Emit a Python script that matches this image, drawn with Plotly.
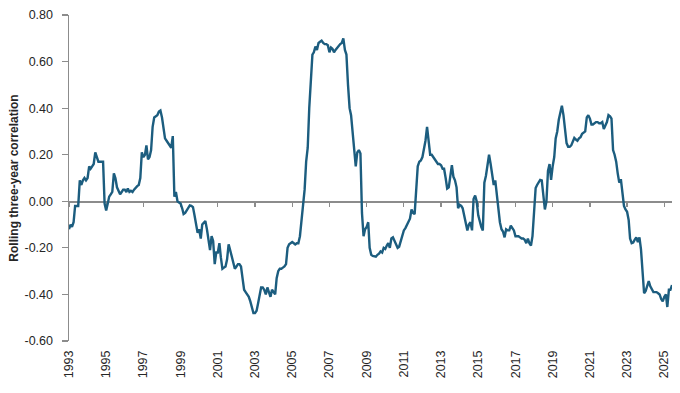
import pandas as pd
import plotly.graph_objects as go

# Monthly rolling three-year correlation, Jan 1993 - Jun 2025
v1993 = [-0.12, -0.10, -0.11, -0.09, -0.02, -0.02, -0.02, 0.09, 0.07, 0.09, 0.10, 0.09]
v1994 = [0.10, 0.15, 0.14, 0.15, 0.16, 0.21, 0.19, 0.17, 0.17, 0.17, 0.17, -0.01]
v1995 = [-0.04, -0.01, 0.02, 0.03, 0.04, 0.12, 0.10, 0.06, 0.04, 0.03, 0.04, 0.05]
v1996 = [0.05, 0.04, 0.055, 0.04, 0.045, 0.04, 0.05, 0.06, 0.065, 0.07, 0.10, 0.21]
v1997 = [0.19, 0.20, 0.24, 0.18, 0.19, 0.22, 0.32, 0.36, 0.365, 0.37, 0.385, 0.39]
v1998 = [0.36, 0.30, 0.27, 0.26, 0.25, 0.24, 0.23, 0.28, 0.02, 0.04, 0.00, -0.005]
v1999 = [-0.01, -0.03, -0.055, -0.05, -0.04, -0.025, -0.018, -0.02, -0.025, -0.06, -0.10, -0.135]
v2000 = [-0.12, -0.16, -0.10, -0.09, -0.085, -0.12, -0.16, -0.21, -0.15, -0.17, -0.27, -0.22]
v2001 = [-0.22, -0.18, -0.24, -0.29, -0.285, -0.28, -0.25, -0.185, -0.21, -0.24, -0.27, -0.29]
v2002 = [-0.28, -0.27, -0.27, -0.28, -0.33, -0.38, -0.39, -0.40, -0.41, -0.43, -0.46, -0.48]
v2003 = [-0.48, -0.47, -0.44, -0.40, -0.37, -0.37, -0.38, -0.40, -0.37, -0.39, -0.41, -0.38]
v2004 = [-0.39, -0.40, -0.33, -0.30, -0.29, -0.29, -0.285, -0.28, -0.27, -0.20, -0.185, -0.18]
v2005 = [-0.175, -0.18, -0.185, -0.18, -0.18, -0.15, -0.085, -0.04, 0.05, 0.17, 0.23, 0.40]
v2006 = [0.55, 0.63, 0.64, 0.665, 0.65, 0.68, 0.685, 0.69, 0.68, 0.675, 0.675, 0.67]
v2007 = [0.64, 0.66, 0.655, 0.64, 0.65, 0.66, 0.67, 0.675, 0.68, 0.70, 0.65, 0.63]
v2008 = [0.50, 0.40, 0.37, 0.30, 0.25, 0.15, 0.21, 0.22, 0.205, -0.05, -0.15, -0.12]
v2009 = [-0.11, -0.09, -0.20, -0.23, -0.235, -0.235, -0.238, -0.23, -0.225, -0.215, -0.22, -0.20]
v2010 = [-0.205, -0.19, -0.18, -0.20, -0.16, -0.155, -0.17, -0.19, -0.20, -0.195, -0.17, -0.14]
v2011 = [-0.125, -0.115, -0.10, -0.085, -0.075, -0.035, -0.05, -0.055, 0.05, 0.15, 0.17, 0.175]
v2012 = [0.19, 0.22, 0.26, 0.32, 0.27, 0.20, 0.20, 0.19, 0.18, 0.17, 0.16, 0.16]
v2013 = [0.155, 0.14, 0.14, 0.10, 0.055, 0.06, 0.12, 0.155, 0.105, 0.09, 0.06, -0.03]
v2014 = [-0.015, -0.02, -0.03, -0.06, -0.10, -0.125, -0.10, -0.09, -0.125, 0.01, 0.025, 0.0]
v2015 = [-0.06, -0.09, -0.11, -0.125, 0.08, 0.11, 0.15, 0.20, 0.16, 0.11, 0.07, 0.09]
v2016 = [0.02, -0.03, -0.09, -0.12, -0.13, -0.155, -0.12, -0.125, -0.125, -0.105, -0.115, -0.125]
v2017 = [-0.15, -0.15, -0.15, -0.155, -0.16, -0.16, -0.165, -0.18, -0.16, -0.18, -0.19, -0.15]
v2018 = [-0.05, 0.057, 0.07, 0.085, 0.092, 0.09, 0.02, -0.035, 0.00, 0.13, 0.16, 0.092]
v2019 = [0.15, 0.19, 0.27, 0.30, 0.35, 0.39, 0.41, 0.37, 0.30, 0.25, 0.234, 0.234]
v2020 = [0.24, 0.255, 0.272, 0.265, 0.26, 0.27, 0.275, 0.29, 0.295, 0.30, 0.36, 0.37]
v2021 = [0.355, 0.33, 0.33, 0.335, 0.34, 0.34, 0.335, 0.335, 0.34, 0.31, 0.325, 0.34]
v2022 = [0.37, 0.365, 0.355, 0.22, 0.20, 0.17, 0.12, 0.08, 0.095, 0.035, -0.02, -0.035]
v2023 = [-0.045, -0.08, -0.16, -0.18, -0.177, -0.165, -0.155, -0.175, -0.155, -0.206, -0.30, -0.395]
v2024 = [-0.385, -0.36, -0.343, -0.365, -0.38, -0.39, -0.39, -0.39, -0.395, -0.40, -0.42, -0.43]
v2025 = [-0.41, -0.40, -0.454, -0.38, -0.38, -0.36]

values = (v1993 + v1994 + v1995 + v1996 + v1997 + v1998 + v1999 + v2000 + v2001 +
          v2002 + v2003 + v2004 + v2005 + v2006 + v2007 + v2008 + v2009 + v2010 +
          v2011 + v2012 + v2013 + v2014 + v2015 + v2016 + v2017 + v2018 + v2019 +
          v2020 + v2021 + v2022 + v2023 + v2024 + v2025)
dates = pd.date_range("1993-01-01", periods=len(values), freq="MS")

x_tick_years = [str(y) for y in range(1993, 2026, 2)]
x_tick_vals = [f"{y}-01-01" for y in x_tick_years]
y_tick_vals = [-0.6, -0.4, -0.2, 0.0, 0.2, 0.4, 0.6, 0.8]
y_tick_text = ["-0.60", "-0.40", "-0.20", "0.00", "0.20", "0.40", "0.60", "0.80"]
y_title = "Rolling three-year correlation"

LINE = "#1c5d7f"
AXIS = "#8c8c8c"
TEXT = "#262626"
FONT = "Liberation Sans, Arial, sans-serif"

y_min, y_max = -0.6, 0.8
x_range = [dates[0], dates[-1]]

fig = go.Figure()
fig.add_trace(go.Scatter(x=dates, y=values, mode="lines",
                         line=dict(color=LINE, width=2.4),
                         hoverinfo="skip", showlegend=False))
# invisible companion trace so the zero-line axis is rendered
fig.add_trace(go.Scatter(x=dates, y=values, mode="lines", xaxis="x2",
                         line=dict(color=LINE, width=0.1), opacity=0,
                         hoverinfo="skip", showlegend=False))

fig.update_layout(
    width=680, height=393,
    margin=dict(l=69, r=8, t=12, b=52),
    paper_bgcolor="white", plot_bgcolor="white",
    font=dict(family=FONT, size=12, color=TEXT),
    xaxis=dict(type="date", range=x_range, showgrid=False, zeroline=False,
               showline=False, ticks="", tickmode="array",
               tickvals=x_tick_vals, ticktext=x_tick_years, tickangle=-90,
               tickfont=dict(size=12.5, color=TEXT), ticklabelstandoff=6),
    xaxis2=dict(type="date", range=x_range, overlaying="x", anchor="free",
                position=(0 - y_min) / (y_max - y_min),
                showgrid=False, zeroline=False, showline=True,
                linecolor=AXIS, linewidth=1.8, ticks="outside", ticklen=4,
                tickwidth=1.2, tickcolor=AXIS, tickmode="array",
                tickvals=x_tick_vals, showticklabels=False, layer="below traces"),
    yaxis=dict(range=[y_min, y_max], showgrid=False, zeroline=False,
               showline=True, linecolor=AXIS, linewidth=1.5,
               ticks="outside", ticklen=6, tickwidth=1.2, tickcolor=AXIS,
               tickmode="array", tickvals=y_tick_vals, ticktext=y_tick_text,
               tickfont=dict(size=12.5, color=TEXT), ticklabelstandoff=6,
               title=dict(text=f"<b>{y_title}</b>", standoff=3,
                          font=dict(size=12, color=TEXT))),
)

fig.write_html("out.html",
               config={"displayModeBar": False, "staticPlot": True},
               post_script="document.body.style.margin='0';document.body.style.overflow='hidden';")
